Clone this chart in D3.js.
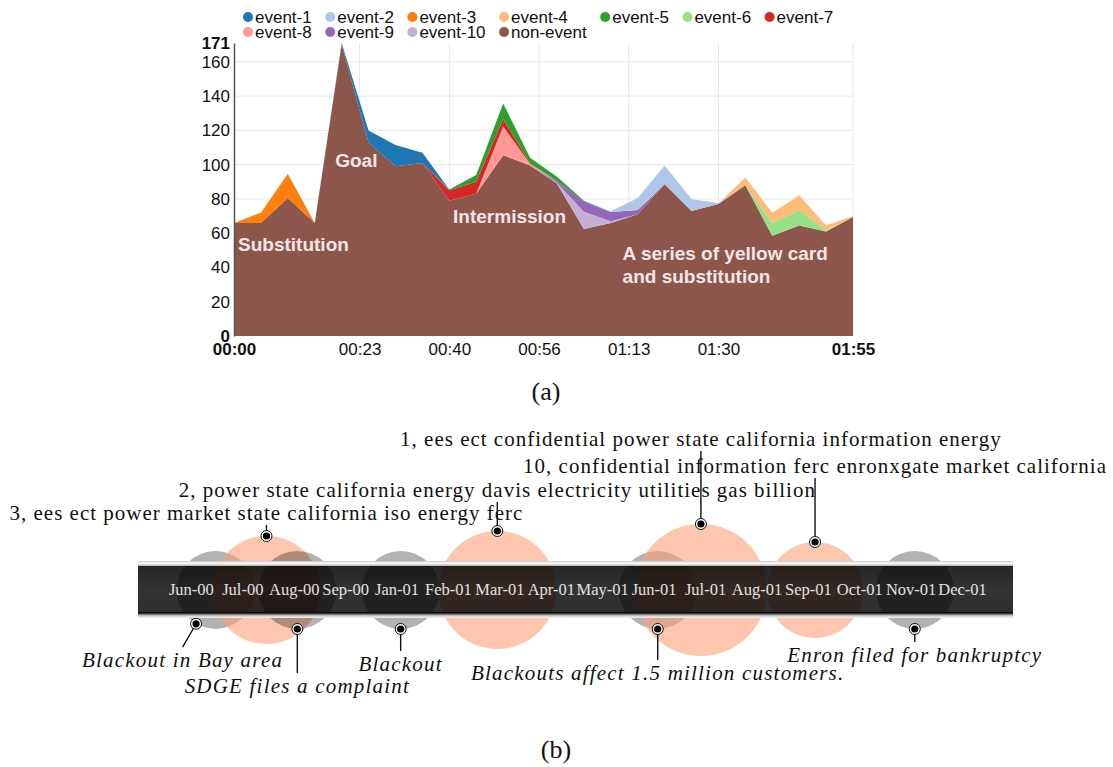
<!DOCTYPE html>
<html>
<head>
<meta charset="utf-8">
<script src="https://cdn.jsdelivr.net/npm/d3@7"></script>
<style>
body { margin: 0; background: #fff; }
svg { display: block; }
</style>
</head>
<body>
<script>
var width = 1113, height = 767;

// ---- (a) stacked area: tweet volume per 5 minutes ----
var minutes = d3.range(0, 120, 5);
var keys = ["event-1","event-2","event-3","event-4","event-5","event-6","event-7","event-8","event-9","event-10","non-event"];
var colors = ["#1f77b4","#aec7e8","#ff7f0e","#ffbb78","#2ca02c","#98df8a","#d62728","#ff9896","#9467bd","#c5b0d5","#8c564b"];

var nonEvent = [66,66,80.5,66,170,113,99,101,79,83,105.5,99.5,89,62.5,66,71,88.5,73,77,88,58.5,64.5,61,69.5];
var event1   = [0,0,0,0,1,7,12.5,6,0,0,0,0,0,0,0,0,0,0,0,0,0,0,0,0];
var event2   = [0,0,0,0,0,0,0,0,0,0,0,0,0,0,0.5,7,11,7,0.5,0,0,0,0,0];
var event3   = [0,6,14,0,0,0,0,0,0,0,0,0,0,0,0,0,0,0,0,0,0,0,0,0];
var event4   = [0,0,0,0,0,0,0,0,0,0,0,0,0,0,0,0,0,0,0,4.5,6,8.5,3,0.5];
var event5   = [0,0,0,0,0,0,0,0,0.5,4,9,3,2.5,0.5,0,0,0,0,0,0,0,0,0,0];
var event6   = [0,0,0,0,0,0,0,0,0,0,0,0,0,0,0,0,0,0,0,0,7.5,9,0.5,0];
var event7   = [0,0,0,0,0,0,0,0,6,7,4.5,0.5,0,0,0,0,0,0,0,0,0,0,0,0];
var event8   = [0,0,0,0,0,0,0,0,0,0,16.7,1,0,0,0,0,0,0,0,0,0,0,0,0];
var event9   = [0,0,0,0,0,0,0,0,0,0,0,0,1,6,5.3,2.5,0,0,0,0,0,0,0,0];
var event10  = [0,0,0,0,0,0,0,0,0,0,0,0,0.5,10,1,0,0,0,0,0,0,0,0,0];

var yTicks = [0,20,40,60,80,100,120,140,160,171];
var xTicks = [0,70/3,40,170/3,220/3,90,115];

var notes = [
  {lines:["Substitution"], t:0.75, v:49.6},
  {lines:["Goal"], t:18.8, v:98.8},
  {lines:["Intermission"], t:40.7, v:65.8},
  {lines:["A series of yellow card","and substitution"], t:72.2, v:44.4}
];

// ---- (b) timeline ----
var months = ["Jun-00","Jul-00","Aug-00","Sep-00","Jan-01","Feb-01","Mar-01","Apr-01","May-01","Jun-01","Jul-01","Aug-01","Sep-01","Oct-01","Nov-01","Dec-01"];
var evMonth = [0.47,1.46,2.06,4.07,5.95,9.07,9.91,12.13,14.07];
var evKind  = ["real","topic","real","real","topic","real","topic","topic","real"];
var evSize  = [39,54,39,39,59,39,66,48,39];
var evLabel = ["Blackout in Bay area",
  "3, ees ect power market state california iso energy ferc",
  "SDGE files a complaint",
  "Blackout",
  "2, power state california energy davis electricity utilities gas billion",
  "Blackouts affect 1.5 million customers.",
  "1, ees ect confidential power state california information energy",
  "10, confidential information ferc enronxgate market california",
  "Enron filed for bankruptcy"];

var svg = d3.select("body").append("svg")
    .attr("width", width)
    .attr("height", height);

var sans = "'Liberation Sans', Arial, sans-serif";
var serif = "'Liberation Serif', 'Times New Roman', serif";

function draw_area(){
    var rows = minutes.map(function(t, i){
        return {t: t, "event-1": event1[i], "event-2": event2[i], "event-3": event3[i], "event-4": event4[i],
            "event-5": event5[i], "event-6": event6[i], "event-7": event7[i], "event-8": event8[i],
            "event-9": event9[i], "event-10": event10[i], "non-event": nonEvent[i]};
    });

    var x = d3.scaleLinear().domain([0, 115]).range([234, 853]);
    var y = d3.scaleLinear().domain([0, 171]).range([336, 43]);
    var color = d3.scaleOrdinal().domain(keys).range(colors);

    var g = svg.append("g");

    // grid
    g.selectAll(".hgrid").data(yTicks.slice(1, -1)).enter().append("line")
        .attr("x1", x(0)).attr("x2", x(115))
        .attr("y1", function(d){ return y(d); }).attr("y2", function(d){ return y(d); })
        .attr("stroke", "#e8e8e8");
    g.selectAll(".vgrid").data(xTicks.slice(1)).enter().append("line")
        .attr("x1", function(d){ return x(d); }).attr("x2", function(d){ return x(d); })
        .attr("y1", y(171)).attr("y2", y(0))
        .attr("stroke", "#e8e8e8");

    var stack = d3.stack().keys(keys.slice().reverse());
    var area = d3.area()
        .x(function(d){ return x(d.data.t); })
        .y0(function(d){ return y(d[0]); })
        .y1(function(d){ return y(d[1]); });

    g.selectAll(".layer").data(stack(rows)).enter().append("path")
        .attr("d", area)
        .attr("fill", function(d){ return color(d.key); });

    // axes
    var yAxis = g.append("g").attr("transform", "translate(" + x(0) + ",0)")
        .call(d3.axisLeft(y).tickValues(yTicks).tickSize(0).tickPadding(4));
    yAxis.select(".domain").attr("stroke", "#555").attr("stroke-width", 1.5);
    yAxis.selectAll("text").style("font-family", sans).style("font-size", "17px").attr("fill", "#111")
        .style("font-weight", function(d){ return (d == 0 || d == 171) ? "bold" : "normal"; });

    var fmt = d3.format("02");
    var xAxis = g.append("g").attr("transform", "translate(0," + y(0) + ")")
        .call(d3.axisBottom(x).tickValues(xTicks).tickSize(0).tickPadding(7)
            .tickFormat(function(m){ return fmt(Math.floor(m / 60)) + ":" + fmt(Math.floor(m % 60)); }));
    xAxis.select(".domain").remove();
    xAxis.selectAll("text").style("font-family", sans).style("font-size", "17px").attr("fill", "#111")
        .style("font-weight", function(d){ return (d == 0 || d == 115) ? "bold" : "normal"; });

    // annotations inside the area
    notes.forEach(function(n){
        var t = g.append("text")
            .attr("x", x(n.t)).attr("y", y(n.v))
            .style("font-family", sans).style("font-size", "19px").style("font-weight", "bold")
            .attr("fill", "#f4e6e6");
        n.lines.forEach(function(l, i){
            t.append("tspan").attr("x", x(n.t)).attr("dy", i == 0 ? 0 : 22.7).text(l);
        });
    });

    // legend, two rows laid out in columns
    var row1 = keys.slice(0, 7), row2 = keys.slice(7);
    var lg = svg.append("g");
    var items = lg.selectAll(".item").data(keys).enter().append("g");
    items.append("circle").attr("r", 5).attr("fill", function(d){ return color(d); });
    items.append("text").attr("x", 7).attr("y", 6)
        .style("font-family", sans).style("font-size", "17px").attr("fill", "#111")
        .text(function(d){ return d; });
    var widths = {};
    items.each(function(d){ widths[d] = d3.select(this).select("text").node().getComputedTextLength(); });
    var cx = 248;
    row1.forEach(function(k, c){
        var w = widths[k];
        if (row2[c]) w = Math.max(w, widths[row2[c]]);
        items.filter(function(d){ return d == k; }).attr("transform", "translate(" + cx + ",17)");
        if (row2[c]) items.filter(function(d){ return d == row2[c]; }).attr("transform", "translate(" + cx + ",32)");
        cx += 7 + w + 18.5;
    });

    svg.append("text").attr("x", 546).attr("y", 400).attr("text-anchor", "middle")
        .style("font-family", serif).style("font-size", "26px").attr("fill", "#111").text("(a)");
}

function draw_timeline(){
    var mx = d3.scalePoint().domain(months).range([140, 1014]).padding(1);
    var posX = function(m){ return mx(months[0]) + m * mx.step(); };
    var cy = 590;

    var defs = svg.append("defs");
    var grad = defs.append("linearGradient").attr("id", "band").attr("x1", 0).attr("y1", 0).attr("x2", 0).attr("y2", 1);
    [[0, "#c8c8c8", 1], [0.04, "#ffffff", 1], [0.08, "#bbbbbb", 1], [0.095, "#000", 0.85], [0.5, "#000", 0.8],
     [0.885, "#000", 0.82], [0.9, "#000", 1], [0.93, "#555", 1], [0.96, "#cfcfcf", 1], [1, "#f0f0f0", 1]]
        .forEach(function(s){
            grad.append("stop").attr("offset", s[0]).attr("stop-color", s[1]).attr("stop-opacity", s[2]);
        });

    var ev = evMonth.map(function(m, i){
        return {x: posX(m), r: evSize[i], kind: evKind[i], label: evLabel[i]};
    });

    // circles behind the band
    svg.append("g").selectAll("circle").data(ev).enter().append("circle")
        .attr("cx", function(d){ return d.x; }).attr("cy", cy).attr("r", function(d){ return d.r; })
        .attr("fill", function(d){ return d.kind == "topic" ? "#ffa07a" : "#000"; })
        .attr("fill-opacity", function(d){ return d.kind == "topic" ? 0.6 : 0.3; });

    svg.append("rect").attr("x", 138).attr("y", 561).attr("width", 875).attr("height", 57)
        .attr("fill", "url(#band)");

    svg.append("g").selectAll("text").data(months).enter().append("text")
        .attr("x", function(d){ return mx(d); }).attr("y", 595).attr("text-anchor", "middle")
        .style("font-family", serif).style("font-size", "16.5px").attr("fill", "#e2e2e2")
        .text(function(d){ return d; });

    // callouts: angle clockwise from up, leader length
    var angle = [210, 0, 180, 180, 0, 180, 0, 0, 180];
    var lead  = [27, 11, 44, 22, 29, 31, 73, 64, 13];
    var cg = svg.append("g");
    ev.forEach(function(d, i){
        var a = angle[i] * Math.PI / 180;
        var dx = Math.sin(a), dy = -Math.cos(a);
        var px = d.x + d.r * dx, py = cy + d.r * dy;
        var ex = px + lead[i] * dx, ey = py + lead[i] * dy;
        cg.append("line").attr("x1", px).attr("y1", py).attr("x2", ex).attr("y2", ey)
            .attr("stroke", "#111").attr("stroke-width", 1.4);
        cg.append("circle").attr("cx", px).attr("cy", py).attr("r", 5.5)
            .attr("fill", "#fff").attr("stroke", "#111").attr("stroke-width", 1);
        cg.append("circle").attr("cx", px).attr("cy", py).attr("r", 3.6).attr("fill", "#000");
        var down = dy > 0;
        cg.append("text").attr("x", ex).attr("y", down ? ey + 20 : ey - 5).attr("text-anchor", "middle")
            .style("font-family", serif).style("font-size", "21px")
            .style("font-style", down ? "italic" : "normal")
            .style("letter-spacing", down ? "1.2px" : "1px")
            .attr("fill", "#111")
            .text(d.label);
    });

    svg.append("text").attr("x", 556).attr("y", 758).attr("text-anchor", "middle")
        .style("font-family", serif).style("font-size", "26px").attr("fill", "#111").text("(b)");
}

function init(){
    draw_area();
    draw_timeline();
}
init();
</script>
</body>
</html>
